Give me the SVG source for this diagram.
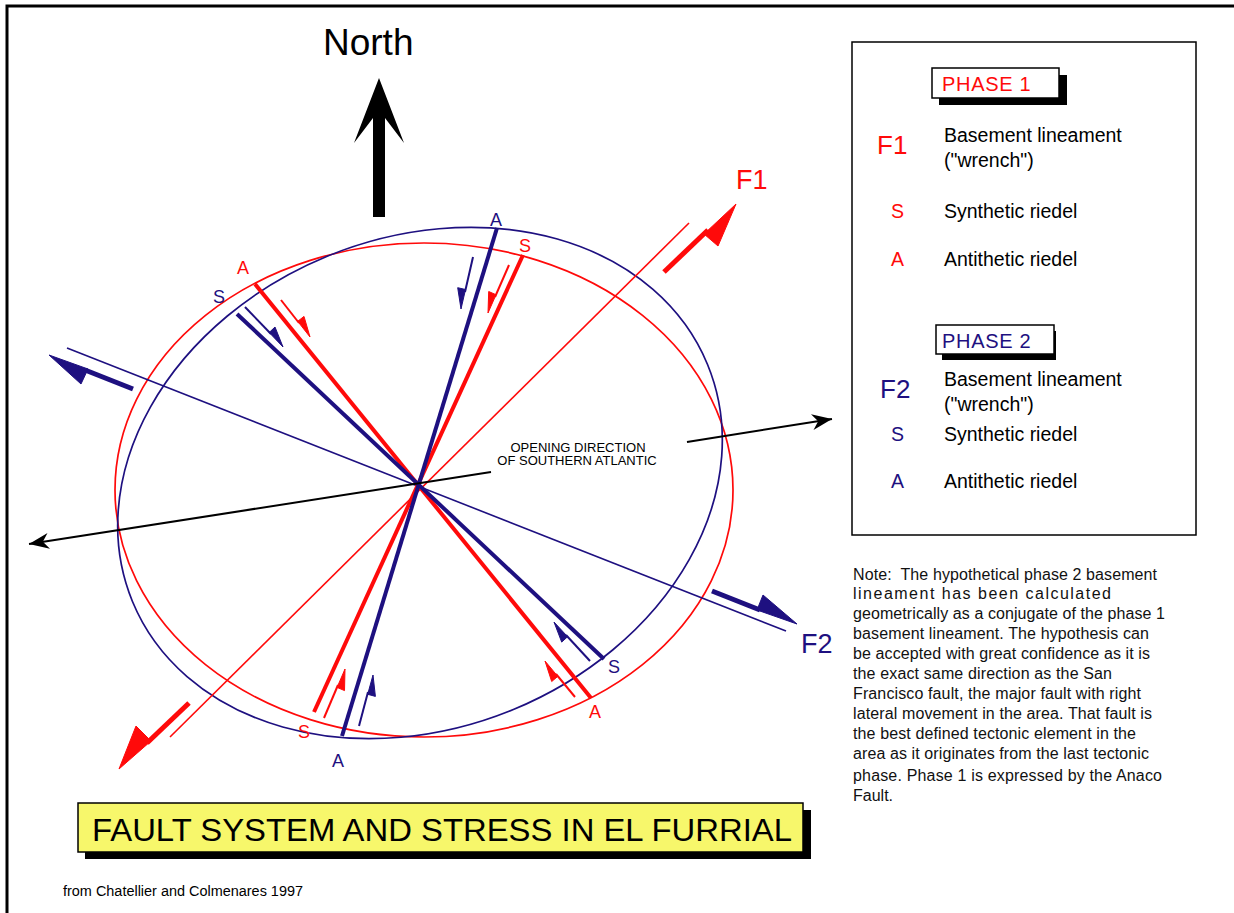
<svg xmlns="http://www.w3.org/2000/svg" width="1234" height="913" viewBox="0 0 1234 913">
<defs>
<style>
text{font-family:"Liberation Sans",Arial,sans-serif;fill:#000;}
.r{stroke:#ff0a0a;fill:none;}
.b{stroke:#1e1080;fill:none;}
.rf{fill:#ff0a0a;stroke:#ff0a0a;stroke-width:1;stroke-linejoin:miter;}
.bf{fill:#1e1080;stroke:#1e1080;stroke-width:1;stroke-linejoin:miter;}
.thick{stroke-width:4;}
.thin{stroke-width:1.6;}
.shaft{stroke-width:2;}
.big{stroke-width:5;}
.lbl{font-size:18px;}
.leg{font-size:19.5px;}
.note{font-size:16px;fill:#111;}
text.rt{fill:#ff0a0a;}
text.bt{fill:#1e1080;}
</style>
<marker id="open" viewBox="-22 -10 24 20" refX="0" refY="0" markerWidth="24" markerHeight="20" markerUnits="userSpaceOnUse" orient="auto">
<path d="M0,0 L-20,-8 L-14,0 L-20,8 Z" fill="#000"/>
</marker>
</defs>
<rect width="1234" height="913" fill="#fff"/>
<g id="frame"><path d="M7,913 V6 H1234" fill="none" stroke="#000" stroke-width="3"/></g>

<g id="north">
<polygon points="379,78 404,143 385,118 385,217 373,217 373,118 354,143" fill="#000"/>
<text x="323" y="55" font-size="37">North</text>
</g>

<g id="ellipses">
<ellipse cx="424" cy="490" rx="309" ry="247" class="r" stroke-width="1.7"/>
<ellipse cx="0" cy="0" rx="311" ry="245" class="b" stroke-width="1.7" transform="translate(420 483) rotate(-22.4)"/>
</g>

<g id="connectors">
<!-- F1 basement lineament -->
<line x1="170" y1="737" x2="689" y2="223" class="r thin"/>
<!-- F2 basement lineament -->
<line x1="67" y1="348" x2="786" y2="631" class="b thin"/>
<!-- riedels -->
<line x1="255" y1="284" x2="591" y2="698" class="r thick"/>
<line x1="523" y1="255" x2="314" y2="712" class="r thick"/>
<line x1="497" y1="228" x2="342" y2="736" class="b thick"/>
<line x1="237" y1="314" x2="604" y2="659" class="b thick"/>
<!-- opening direction -->
<line x1="491" y1="472" x2="29" y2="544" stroke="#000" stroke-width="2" marker-end="url(#open)"/>
<line x1="687" y1="442" x2="832" y2="419" stroke="#000" stroke-width="2" marker-end="url(#open)"/>

<!-- big half arrows -->
<line x1="664" y1="272" x2="708" y2="230" class="r big"/>
<polygon points="736,204 718,246 704,234" class="rf"/>
<line x1="189" y1="703" x2="147" y2="743" class="r big"/>
<polygon points="119,769 136,726 151,741" class="rf"/>
<line x1="133" y1="389" x2="85" y2="370" class="b big"/>
<polygon points="49,355 81,384 88,369" class="bf"/>
<line x1="712" y1="591" x2="760" y2="610" class="b big"/>
<polygon points="797,624 763,595 757,610" class="bf"/>

<!-- small half arrows -->
<line x1="281" y1="300" x2="299" y2="323" class="r shaft"/>
<polygon points="310,337 304,316.4 297.7,321.3" class="rf"/>
<line x1="575" y1="697" x2="556" y2="674" class="r shaft"/>
<polygon points="545,661 551.7,681.5 557.8,676.4" class="rf"/>
<line x1="509" y1="265" x2="495" y2="297" class="r shaft"/>
<polygon points="488,313 488.7,291.5 496,294.7" class="rf"/>
<line x1="324" y1="718" x2="338" y2="685" class="r shaft"/>
<polygon points="345,669 344.5,690.6 337.1,687.4" class="rf"/>
<line x1="473" y1="257" x2="465" y2="292" class="b shaft"/>
<polygon points="461,309 457.7,287.7 465.5,289.5" class="bf"/>
<line x1="359" y1="726" x2="368" y2="692" class="b shaft"/>
<polygon points="373,675 375.4,696.4 367.7,694.3" class="bf"/>
<line x1="245" y1="307" x2="271" y2="334" class="b shaft"/>
<polygon points="283,347 275,327 269.2,332.5" class="bf"/>
<line x1="590" y1="661" x2="566" y2="635" class="b shaft"/>
<polygon points="554,622 561.7,642.1 567.6,636.7" class="bf"/>
</g>

<g id="labels">
<text x="736" y="189" font-size="27" class="rt">F1</text>
<text x="801" y="653" font-size="27" class="bt">F2</text>
<text x="237" y="274" class="lbl rt">A</text>
<text x="213" y="303" class="lbl bt">S</text>
<text x="490" y="226" class="lbl bt">A</text>
<text x="519" y="252" class="lbl rt">S</text>
<text x="298" y="738" class="lbl rt">S</text>
<text x="332" y="767" class="lbl bt">A</text>
<text x="608" y="673" class="lbl bt">S</text>
<text x="589" y="718" class="lbl rt">A</text>
<text x="578" y="452" font-size="13" text-anchor="middle" fill="#111">OPENING DIRECTION</text>
<text x="577" y="465" font-size="13" text-anchor="middle" fill="#111">OF SOUTHERN ATLANTIC</text>
</g>

<g id="legend">
<rect x="852" y="42" width="344" height="493" fill="#fff" stroke="#000" stroke-width="1.5"/>
<rect x="939" y="75" width="128" height="30" fill="#000"/>
<rect x="932" y="68" width="127" height="30" fill="#fff" stroke="#000" stroke-width="1.5"/>
<text x="942" y="91" font-size="20" letter-spacing="0.7" class="rt">PHASE 1</text>
<text x="877" y="154" font-size="26" class="rt">F1</text>
<text x="944" y="142" class="leg">Basement lineament</text>
<text x="944" y="167" class="leg">("wrench")</text>
<text x="891" y="218" class="leg rt">S</text>
<text x="944" y="218" class="leg">Synthetic riedel</text>
<text x="891" y="266" class="leg rt">A</text>
<text x="944" y="266" class="leg">Antithetic riedel</text>
<rect x="942" y="331" width="114" height="29" fill="#000"/>
<rect x="936" y="325" width="118" height="29" fill="#fff" stroke="#000" stroke-width="1.5"/>
<text x="942" y="348" font-size="20" letter-spacing="0.7" class="bt">PHASE 2</text>
<text x="880" y="398" font-size="26" class="bt">F2</text>
<text x="944" y="386" class="leg">Basement lineament</text>
<text x="944" y="411" class="leg">("wrench")</text>
<text x="891" y="441" class="leg bt">S</text>
<text x="944" y="441" class="leg">Synthetic riedel</text>
<text x="891" y="488" class="leg bt">A</text>
<text x="944" y="488" class="leg">Antithetic riedel</text>
</g>

<g id="note">
<text x="853" y="580" class="note" textLength="304" lengthAdjust="spacing">Note:&#160; The hypothetical phase 2 basement</text>
<text x="853" y="599" class="note" textLength="258" lengthAdjust="spacing">lineament has been calculated</text>
<text x="853" y="619" class="note" textLength="312" lengthAdjust="spacing">geometrically as a conjugate of the phase 1</text>
<text x="853" y="639" class="note" textLength="296" lengthAdjust="spacing">basement lineament. The hypothesis can</text>
<text x="853" y="659" class="note" textLength="297" lengthAdjust="spacing">be accepted with great confidence as it is</text>
<text x="853" y="679" class="note" textLength="259" lengthAdjust="spacing">the exact same direction as the San</text>
<text x="853" y="699" class="note" textLength="288" lengthAdjust="spacing">Francisco fault, the major fault with right</text>
<text x="853" y="719" class="note" textLength="299" lengthAdjust="spacing">lateral movement in the area. That fault is</text>
<text x="853" y="739" class="note" textLength="283" lengthAdjust="spacing">the best defined tectonic element in the</text>
<text x="853" y="759" class="note" textLength="296" lengthAdjust="spacing">area as it originates from the last tectonic</text>
<text x="853" y="781" class="note" textLength="309" lengthAdjust="spacing">phase. Phase 1 is expressed by the Anaco</text>
<text x="853" y="801" class="note">Fault.</text>
</g>

<g id="title">
<rect x="85" y="810" width="726" height="49" fill="#000"/>
<rect x="78" y="803" width="725" height="49" fill="#f7f76b" stroke="#000" stroke-width="1.5"/>
<text x="92" y="841" font-size="32" textLength="700" lengthAdjust="spacingAndGlyphs">FAULT SYSTEM AND STRESS IN EL FURRIAL</text>
</g>

<g id="credit">
<text x="63" y="896" font-size="14" textLength="240" lengthAdjust="spacingAndGlyphs" fill="#111">from Chatellier and Colmenares 1997</text>
</g>
</svg>
